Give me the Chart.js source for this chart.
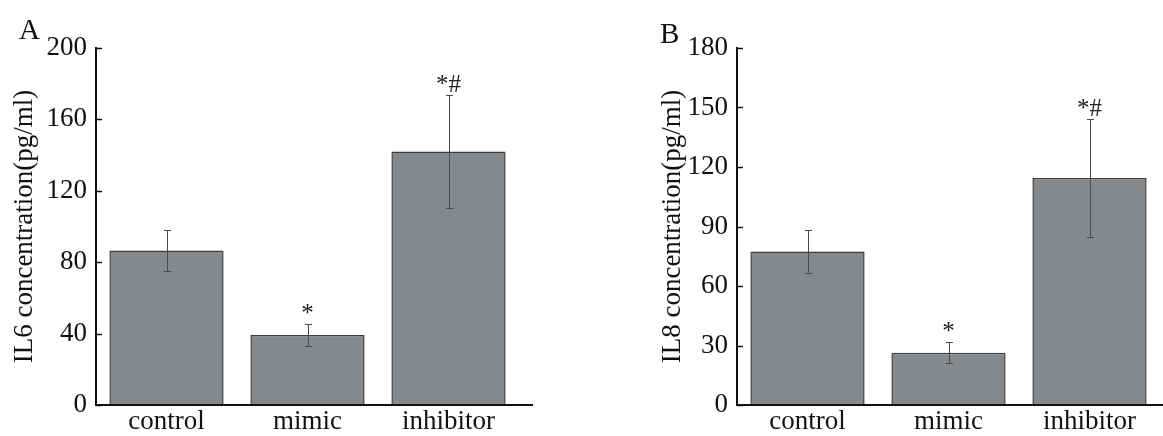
<!DOCTYPE html>
<html>
<head>
<meta charset="utf-8">
<script src="https://cdn.jsdelivr.net/npm/chart.js@4/dist/chart.umd.min.js"></script>
<style>
  html, body { margin: 0; padding: 0; background: #fff; }
  #wrap { position: relative; width: 1163px; height: 436px; overflow: hidden; }
  .panel { position: absolute; top: 0; height: 436px; }
</style>
</head>
<body>
<div id="wrap">
  <div class="panel" style="left:0;width:560px"><canvas id="chartA"></canvas></div>
  <div class="panel" style="left:600px;width:563px"><canvas id="chartB"></canvas></div>
</div>
<script>
// groups on the x axis
var groups = ['control', 'mimic', 'inhibitor'];

// panel A: IL6
var il6Mean = [86.5, 39.2, 142.0];
var il6Err = [11.5, 6.2, 31.5];
var il6Marks = ['', '*', '*#'];
var il6Max = 200, il6Step = 40;

// panel B: IL8
var il8Mean = [77.4, 26.4, 114.4];
var il8Err = [10.6, 5.3, 29.6];
var il8Marks = ['', '*', '*#'];
var il8Max = 180, il8Step = 30;

var SERIF = "'Liberation Serif', 'Times New Roman', serif";

// draws error bars, the star marks, inward y ticks, the x axis line and the panel letter
var extras = {
  id: 'extras',
  afterDatasetsDraw: function(chart) {
    var o = chart.options.plugins.extras;
    var ctx = chart.ctx;
    var y = chart.scales.y;
    var area = chart.chartArea;
    var meta = chart.getDatasetMeta(0);
    ctx.save();

    // error bars
    ctx.strokeStyle = '#4a4a4a';
    ctx.lineWidth = 1;
    meta.data.forEach(function(bar, i) {
      var v = o.mean[i], e = o.err[i];
      var top = y.getPixelForValue(v + e);
      var bot = y.getPixelForValue(v - e);
      var x = Math.round(bar.x) + 0.5;
      ctx.beginPath();
      ctx.moveTo(x, top); ctx.lineTo(x, bot);
      ctx.moveTo(x - 3.5, Math.round(top) + 0.5); ctx.lineTo(x + 3.5, Math.round(top) + 0.5);
      ctx.moveTo(x - 3.5, Math.round(bot) + 0.5); ctx.lineTo(x + 3.5, Math.round(bot) + 0.5);
      ctx.stroke();

      // significance marks
      if (o.marks[i]) {
        ctx.fillStyle = '#222';
        ctx.font = '25px ' + SERIF;
        ctx.textAlign = 'center';
        ctx.textBaseline = 'alphabetic';
        ctx.fillText(o.marks[i], bar.x, top - 3);
      }
    });

    // inward tick marks on y axis
    ctx.strokeStyle = '#111';
    ctx.lineWidth = 1.5;
    y.ticks.forEach(function(t, i) {
      var py = Math.round(y.getPixelForTick(i)) + 0.5;
      ctx.beginPath();
      ctx.moveTo(area.left, py);
      ctx.lineTo(area.left + 6, py);
      ctx.stroke();
    });

    // x axis line, running a bit past the last bar
    ctx.lineWidth = 2;
    ctx.beginPath();
    ctx.moveTo(area.left - 1, area.bottom);
    ctx.lineTo(area.right + o.extend, area.bottom);
    ctx.stroke();

    // panel letter
    ctx.fillStyle = '#111';
    ctx.font = '29px ' + SERIF;
    ctx.textAlign = 'left';
    ctx.fillText(o.letter, o.letterX, o.letterY);
    ctx.restore();
  }
};

function BuildPanel(canvasId, mean, err, marks, maxV, step, yTitle, letter, cfg) {
  var ctx = document.getElementById(canvasId).getContext('2d');
  return new Chart(ctx, {
    type: 'bar',
    data: {
      labels: groups,
      datasets: [{
        data: mean,
        backgroundColor: '#86898b',
        borderColor: '#3c3c3c',
        borderWidth: 1.5,
        borderSkipped: 'bottom',
        barPercentage: 0.81,
        categoryPercentage: 1.0
      }]
    },
    options: {
      responsive: true,
      maintainAspectRatio: false,
      animation: false,
      layout: { padding: { left: 0, top: 48, right: cfg.padRight, bottom: 0 } },
      plugins: {
        legend: { display: false },
        tooltip: { enabled: false },
        extras: {
          mean: mean, err: err, marks: marks,
          extend: cfg.extend, letter: letter,
          letterX: cfg.letterX, letterY: cfg.letterY
        }
      },
      scales: {
        x: {
          grid: { display: false, drawTicks: false },
          border: { display: false },
          ticks: { color: '#111', padding: 1, font: { family: SERIF, size: 27 } },
          afterFit: function(s) { s.height = 31; }
        },
        y: {
          min: 0, max: maxV,
          grid: { display: false, drawTicks: false },
          border: { display: true, color: '#111', width: 2 },
          ticks: { stepSize: step, color: '#111', padding: 9, font: { family: SERIF, size: 27 } },
          title: {
            display: true, text: yTitle, color: '#111',
            padding: { top: cfg.titlePad, bottom: 0 },
            font: { family: SERIF, size: 27 }
          },
          afterFit: function(s) { s.width = cfg.yWidth; }
        }
      }
    },
    plugins: [extras]
  });
}

BuildPanel('chartA', il6Mean, il6Err, il6Marks, il6Max, il6Step,
  'IL6 concentration(pg/ml)', 'A',
  { yWidth: 96, titlePad: 9, padRight: 41, extend: 14, letterX: 19, letterY: 39 });

BuildPanel('chartB', il8Mean, il8Err, il8Marks, il8Max, il8Step,
  'IL8 concentration(pg/ml)', 'B',
  { yWidth: 137, titlePad: 57, padRight: 3, extend: 3, letterX: 60, letterY: 43 });
</script>
</body>
</html>
